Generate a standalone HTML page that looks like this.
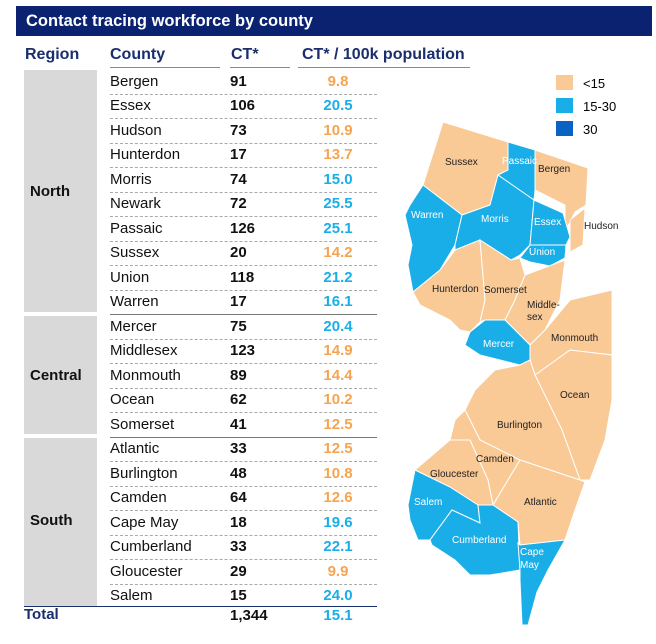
<!DOCTYPE html>
<html><head><meta charset="utf-8"><style>
body{margin:0;width:656px;height:644px;background:#fff;font-family:"Liberation Sans",sans-serif;position:relative;overflow:hidden}
.t{position:absolute;left:16px;top:6px;width:636px;height:30px;background:#0b2270;color:#fff;font-weight:bold;font-size:16.5px;line-height:30px;padding-left:10px;box-sizing:border-box}
.h{position:absolute;top:46px;font-weight:bold;font-size:16px;color:#1a2e6e}
.hl{position:absolute;top:67px;height:1px;background:#8a8a8a}
.reg{position:absolute;left:24px;width:73px;background:#d9d9d9}
.rl{position:absolute;left:30px;font-weight:bold;font-size:15px;color:#111}
.row{position:absolute;left:110px;width:267px;height:24px;font-size:15px;line-height:24px}
.row span{position:absolute}
.c{left:0;color:#111}.n{left:120px;font-weight:bold;color:#111}.v{left:198px;width:60px;text-align:center;font-weight:bold}
.o{color:#f5a451}.b{color:#1aaee8}
.dash{position:absolute;left:110px;width:267px;border-top:1px dashed #aaa}
.sol{position:absolute;left:110px;width:267px;border-top:1px solid #777}
</style></head><body>
<div class="t">Contact tracing workforce by county</div>
<div class="h" style="left:25px">Region</div>
<div class="h" style="left:110px">County</div>
<div class="h" style="left:231px">CT*</div>
<div class="h" style="left:302px">CT* / 100k population</div>
<div class="hl" style="left:110px;width:110px"></div>
<div class="hl" style="left:230px;width:60px"></div>
<div class="hl" style="left:298px;width:172px"></div>
<div class="reg" style="top:70px;height:242px"></div>
<div class="reg" style="top:316px;height:118px"></div>
<div class="reg" style="top:438px;height:168px"></div>
<div class="rl" style="top:183px">North</div>
<div class="rl" style="top:367px">Central</div>
<div class="rl" style="top:512px">South</div>
<div id="rows"></div>
<div style="position:absolute;left:24px;top:606px;width:353px;border-top:1px solid #1a2e6e"></div>
<div class="rl" style="left:24px;top:606px;color:#1a2e6e">Total</div>
<div class="row" style="top:604px"><span class="n">1,344</span><span class="v b">15.1</span></div>
<script>
var d=[["Bergen",91,"9.8"],["Essex",106,"20.5"],["Hudson",73,"10.9"],["Hunterdon",17,"13.7"],["Morris",74,"15.0"],["Newark",72,"25.5"],["Passaic",126,"25.1"],["Sussex",20,"14.2"],["Union",118,"21.2"],["Warren",17,"16.1"],["Mercer",75,"20.4"],["Middlesex",123,"14.9"],["Monmouth",89,"14.4"],["Ocean",62,"10.2"],["Somerset",41,"12.5"],["Atlantic",33,"12.5"],["Burlington",48,"10.8"],["Camden",64,"12.6"],["Cape May",18,"19.6"],["Cumberland",33,"22.1"],["Gloucester",29,"9.9"],["Salem",15,"24.0"]];
var h="";d.forEach(function(r,i){var y=69.5+i*24.5;var cls=parseFloat(r[2])<15?"o":"b";
h+='<div class="row" style="top:'+y+'px"><span class="c">'+r[0]+'</span><span class="n">'+r[1]+'</span><span class="v '+cls+'">'+r[2]+'</span></div>';
if(i<21){var ly=y+24;h+='<div class="'+((i==9||i==14)?'sol':'dash')+'" style="top:'+ly+'px"></div>';}});
document.getElementById("rows").innerHTML=h;
</script>
<svg style="position:absolute;left:0;top:0" width="656" height="644" font-family="Liberation Sans, sans-serif" font-size="10">
<g stroke="#fff" stroke-width="1">
<polygon fill="#f9c996" points="423,185 443,122 508,142 508,170 498,175 490,205 462,215"/>
<polygon fill="#1aaee8" points="508,142 535,150 535,190 534,200 500,180 498,175 508,170"/>
<polygon fill="#f9c996" points="535,150 588,168 586,205 575,212 565,232 565,205 535,190"/>
<polygon fill="#1aaee8" points="423,185 462,215 455,245 440,270 413,292 408,265 412,245 405,215 410,205"/>
<polygon fill="#1aaee8" points="462,215 490,205 498,175 534,200 530,245 520,255 511,260 480,240 455,250 455,245"/>
<polygon fill="#1aaee8" points="534,200 563,213 570,237 566,245 530,245"/>
<polygon fill="#1aaee8" points="530,245 566,245 565,258 550,266 530,262 520,258"/>
<polygon fill="#f9c996" points="570,220 585,208 583,245 570,252"/>
<polygon fill="#f9c996" points="413,292 440,270 455,250 480,240 485,300 480,322 470,332 460,330 450,320 420,305"/>
<polygon fill="#f9c996" points="480,240 511,260 520,258 525,275 515,300 505,320 485,320 480,322 485,300"/>
<polygon fill="#f9c996" points="525,275 565,260 560,300 545,330 530,345 505,320 515,300"/>
<polygon fill="#1aaee8" points="470,332 485,320 505,320 530,345 530,360 520,365 500,360 480,355 465,345"/>
<polygon fill="#f9c996" points="530,360 530,345 545,330 570,300 612,290 612,355 570,350 535,375"/>
<polygon fill="#f9c996" points="535,375 570,350 612,355 612,400 605,440 590,480 580,480 562,430"/>
<polygon fill="#f9c996" points="465,410 475,390 495,370 520,365 530,360 535,375 562,430 580,480 520,460 480,440"/>
<polygon fill="#f9c996" points="450,440 455,420 465,410 480,440 520,460 505,485 493,505 488,480 470,440"/>
<polygon fill="#f9c996" points="415,470 450,440 470,440 488,480 493,505 478,505 450,487"/>
<polygon fill="#f9c996" points="493,505 505,485 520,460 580,480 585,482 575,510 565,540 520,545 518,522"/>
<polygon fill="#1aaee8" points="408,505 415,470 450,487 478,505 480,523 452,510 430,540 418,540 410,520"/>
<polygon fill="#1aaee8" points="452,510 480,523 478,505 493,505 518,522 520,570 490,575 470,575 455,560 432,545 430,540"/>
<polygon fill="#1aaee8" points="518,543 520,545 565,540 548,570 537,592 528,625 522,625 520,580 520,570"/>
</g>
<g fill="#222"><text x="445" y="165">Sussex</text><text x="538" y="172">Bergen</text><text x="584" y="229">Hudson</text>
<text x="432" y="292">Hunterdon</text><text x="484" y="293">Somerset</text><text x="527" y="308">Middle-</text><text x="527" y="320">sex</text>
<text x="551" y="341">Monmouth</text><text x="560" y="398">Ocean</text><text x="497" y="428">Burlington</text><text x="476" y="462">Camden</text>
<text x="430" y="477">Gloucester</text><text x="524" y="505">Atlantic</text></g>
<g fill="#fff"><text x="502" y="164">Passaic</text><text x="411" y="218">Warren</text><text x="481" y="222">Morris</text><text x="534" y="225">Essex</text>
<text x="529" y="255">Union</text><text x="483" y="347">Mercer</text><text x="414" y="505">Salem</text><text x="452" y="543">Cumberland</text>
<text x="520" y="555">Cape</text><text x="520" y="568">May</text></g>
<rect x="556" y="75" width="17" height="15" fill="#f9c996"/><text x="583" y="88" font-size="13">&lt;15</text>
<rect x="556" y="98" width="17" height="15" fill="#1aaee8"/><text x="583" y="111" font-size="13">15-30</text>
<rect x="556" y="121" width="17" height="15" fill="#0a62c4"/><text x="583" y="134" font-size="13">30</text>
</svg>
</body></html>
